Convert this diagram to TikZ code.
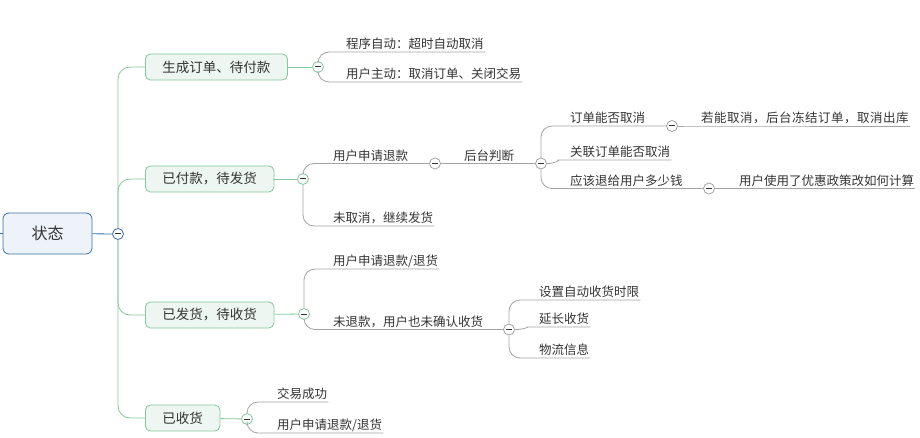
\documentclass[tikz,border=0pt]{standalone}
\usepackage{fontspec}
\newfontfamily\cjk{Noto Sans CJK SC}
\usetikzlibrary{positioning}
\definecolor{rootline}{HTML}{3A6EA5}
\definecolor{rootfill}{HTML}{EEF3FA}
\definecolor{topicline}{HTML}{84C69C}
\definecolor{topicfill}{HTML}{EDF6F0}
\definecolor{twiggray}{HTML}{A3A3A3}
\definecolor{ink}{HTML}{333333}
\tikzset{
    root/.style={draw=rootline, fill=rootfill, rounded corners=6pt, line width=0.8pt,
      minimum width=89pt, minimum height=41pt, text=ink, font=\cjk\fontsize{16}{16}\selectfont},
    topic/.style={draw=topicline, fill=topicfill, rounded corners=5pt, line width=0.8pt, anchor=west,
      inner xsep=17pt, minimum height=26pt, text=ink, font=\cjk\fontsize{13.5}{13.5}\selectfont},
    leaf/.style={anchor=south west, inner xsep=1pt, inner ysep=0pt, text depth=3pt,
      text=ink, font=\cjk\fontsize{12.5}{12.5}\selectfont},
    wide/.style={font=\cjk\fontsize{12.5}{12.5}\selectfont\addfontfeature{LetterSpace=4}},
    fold/.style={circle, draw=#1, fill=white, line width=0.8pt, minimum size=11pt, inner sep=0pt,
      path picture={\draw[ink, line width=1pt]
        ([xshift=-2.6pt]path picture bounding box.center) -- ([xshift=2.6pt]path picture bounding box.center);}},
    fold/.default=twiggray,
    stem/.style={draw=rootline, line width=0.8pt},
    trunk/.style={draw=topicline, line width=0.8pt, rounded corners=12pt},
    twig/.style={draw=twiggray, line width=0.8pt, rounded corners=11pt},
}
\begin{document}
\begin{tikzpicture}[x=1pt, y=-1pt]
    \useasboundingbox (0,0) rectangle (920,438);

    \coordinate (edge) at (0,233.5);
    \node[root] (r) at (47.5,233.5) {状态};
    \node[fold=rootline] (f0) at (118,234) {};

    \node[topic] (t1) at (145,67) {生成订单、待付款};
    \node[topic] (t2) at (145,179) {已付款，待发货};
    \node[topic] (t3) at (145,315) {已发货，待收货};
    \node[topic] (t4) at (145,418) {已收货};

    \node[fold=topicline] (f1) at (318,67) {};
    \node[fold=topicline] (f2) at (303,179) {};
    \node[fold=topicline] (f3) at (304,314) {};
    \node[fold=topicline] (f4) at (247,419) {};

    \node[leaf] (s11) at (345,52) {程序自动：超时自动取消};
    \node[leaf] (s12) at (345,82) {用户主动：取消订单、关闭交易};

    \node[leaf] (s21) at (332,163.5) {用户申请退款};
    \node[leaf] (s22) at (332,226) {未取消，继续发货};
    \node[fold] (f21) at (435,163.5) {};
    \node[leaf] (g1) at (463,163.5) {后台判断};
    \node[fold] (f22) at (541,163.5) {};

    \node[leaf] (h1) at (569,126) {订单能否取消};
    \node[fold] (f23) at (672,126) {};
    \node[leaf, wide] (h11) at (700,126) {若能取消，后台冻结订单，取消出库};
    \node[leaf] (h2) at (569,160) {关联订单能否取消};
    \node[leaf] (h3) at (569,188.5) {应该退给用户多少钱};
    \node[fold] (f24) at (709,188.5) {};
    \node[leaf] (h31) at (738,188.5) {用户使用了优惠政策改如何计算};

    \node[leaf] (s31) at (332,269) {用户申请退款/退货};
    \node[leaf] (s32) at (332,329.5) {未退款，用户也未确认收货};
    \node[fold] (f31) at (509,329.5) {};
    \node[leaf] (k1) at (538,300) {设置自动收货时限};
    \node[leaf] (k2) at (538,327) {延长收货};
    \node[leaf] (k3) at (538,358) {物流信息};

    \node[leaf] (s41) at (276,402) {交易成功};
    \node[leaf] (s42) at (276,433) {用户申请退款/退货};

    \draw[stem] (edge) -- (r);
    \draw[stem] (r) -- (f0);
    \draw[trunk] (f0) |- (t1);
    \draw[trunk] (f0) |- (t2);
    \draw[trunk] (f0) |- (t3);
    \draw[trunk] (f0) |- (t4);
    \draw[trunk] (t1) -- (f1);
    \draw[trunk] (t2) -- (f2);
    \draw[trunk] (t3) -- (f3);
    \draw[trunk] (t4) -- (f4);

    \draw[twig] (f1) |- (s11.south west) -- (s11.south east);
    \draw[twig] (f1) |- (s12.south west) -- (s12.south east);

    \draw[twig] (f2) |- (s21.south west) -- (s21.south east) -- (f21);
    \draw[twig] (f2) |- (s22.south west) -- (s22.south east);
    \draw[twig] (f21) -- (g1.south west) -- (g1.south east) -- (f22);
    \draw[twig] (f22) |- (h1.south west) -- (h1.south east) -- (f23);
    \draw[twig] (f23) -- (h11.south west) -- (h11.south east);
    \draw[twig] (f22) to[out=0, in=180] (h2.south west) -- (h2.south east);
    \draw[twig] (f22) |- (h3.south west) -- (h3.south east) -- (f24);
    \draw[twig] (f24) -- (h31.south west) -- (h31.south east);

    \draw[twig] (f3) |- (s31.south west) -- (s31.south east);
    \draw[twig] (f3) |- (s32.south west) -- (s32.south east) -- (f31);
    \draw[twig] (f31) |- (k1.south west) -- (k1.south east);
    \draw[twig] (f31) to[out=0, in=180] (k2.south west) -- (k2.south east);
    \draw[twig] (f31) |- (k3.south west) -- (k3.south east);

    \draw[twig] (f4) |- (s41.south west) -- (s41.south east);
    \draw[twig] (f4) |- (s42.south west) -- (s42.south east);
\end{tikzpicture}
\end{document}
